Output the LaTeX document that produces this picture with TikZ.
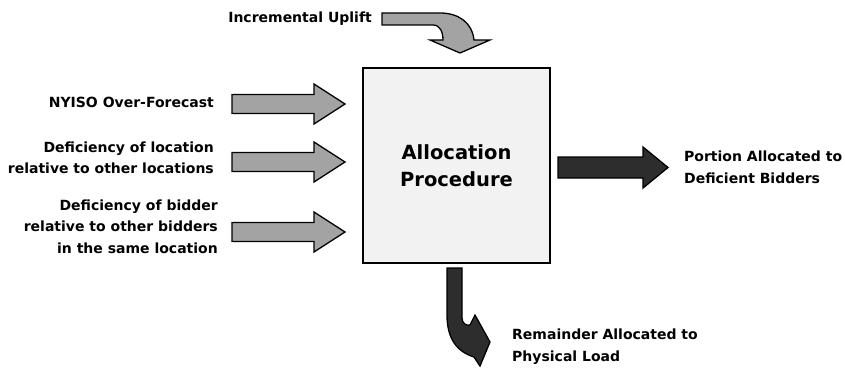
\documentclass[tikz,border=0pt]{standalone}
\usepackage{fontspec}
\setmainfont{DejaVu Sans}
\definecolor{boxgray}{RGB}{242,242,242}
\definecolor{ingray}{RGB}{163,163,163}
\definecolor{outgray}{RGB}{45,45,45}
\tikzset{
  inarrow/.style={draw=black, line width=1.3pt, fill=ingray},
  outarrow/.style={draw=black, line width=1.3pt, fill=outgray},
  lbl/.style={font=\bfseries\fontsize{14}{21.5}\selectfont, inner sep=0pt},
}
\begin{document}
\begin{tikzpicture}[x=1pt, y=-1pt]
\useasboundingbox (0,0) rectangle (845,369);

% Box
\node [draw, line width=2pt, fill=boxgray, minimum width=187pt, minimum height=195pt,
       align=center, font=\bfseries\fontsize{19.5}{27}\selectfont] (alloc) at (456.5,165.5)
      {Allocation\\Procedure};

% Inputs
\foreach \y in {104,162,232}
  \draw [inarrow] (232,\y-9.5) -- (314,\y-9.5) -- (314,\y-20) -- (345,\y)
        -- (314,\y+20) -- (314,\y+9.5) -- (232,\y+9.5) -- cycle;
\node [lbl, anchor=east, align=right] (forecast) at (214,102) {NYISO Over-Forecast};
\node [lbl, anchor=east, align=right] (locdef) at (214,158) {Deficiency of location\\relative to other locations};
\node [lbl, anchor=east, align=right] (biddef) at (218,226.5) {Deficiency of bidder\\relative to other bidders\\in the same location};

% Uplift
\draw [inarrow] (382,13) -- (440,13) .. controls (458,13) and (472,22) .. (474,40)
      -- (490,40) -- (460,53) -- (430,40) -- (443,40)
      .. controls (443,32) and (440,25) .. (433,25) -- (382,25) -- cycle;
\node [lbl, anchor=east] (uplift) at (372,19) {Incremental Uplift};

% Outputs
\draw [outarrow] (558,157) -- (643,157) -- (643,147) -- (668,167.5) -- (643,188)
      -- (643,178) -- (558,178) -- cycle;
\node [lbl, anchor=west, align=left] (portion) at (684,167.5) {Portion Allocated to\\Deficient Bidders};
\draw [outarrow] (447,268) -- (462,268) -- (462,318) .. controls (462,323) and (466,326) .. (470,325)
      -- (475,315) -- (490,342) -- (480,366) -- (474,357)
      .. controls (458,352) and (447,340) .. (447,315) -- cycle;
\node [lbl, anchor=west, align=left] (remainder) at (512,346.5) {Remainder Allocated to\\Physical Load};
\end{tikzpicture}
\end{document}
